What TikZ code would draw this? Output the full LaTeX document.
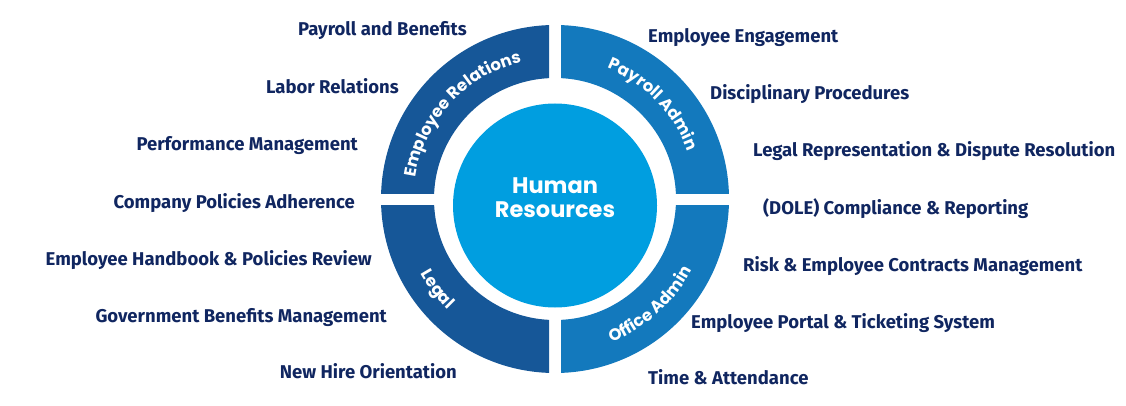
\documentclass[tikz,border=0pt]{standalone}
\usepackage{fontspec}
\setmainfont{Fira Sans}
\newfontfamily\popfont{Poppins}
\usetikzlibrary{decorations.text,calc}
\definecolor{navy}{RGB}{16,38,96}
\definecolor{segdark}{RGB}{22,87,152}
\definecolor{seglight}{RGB}{19,121,189}
\definecolor{hrblue}{RGB}{0,158,224}
\newcommand\curvefont{\popfont\bfseries\fontsize{16.5}{16.5}\selectfont}
\tikzset{
  lbl/.style={text=navy, font=\fontsize{18.5}{18.5}\selectfont\bfseries, inner sep=0pt},
  lleft/.style={lbl, anchor=base east},
  lright/.style={lbl, anchor=base west},
  curvelbl/.style={decorate, decoration={text along path, text align=center, text color=white, text={|\curvefont|#1}}},
}
\begin{document}
\begin{tikzpicture}[x=1pt,y=1pt]
\useasboundingbox (0,0) rectangle (1126,-406);
\coordinate (C) at (555,-199);
% ring segments
\foreach \sx/\sy/\col in {-1/1/segdark, 1/1/seglight, -1/-1/segdark, 1/-1/seglight}{
  \begin{scope}
    \clip ($(C)+(6*\sx,6*\sy)$) rectangle ($(C)+(200*\sx,200*\sy)$);
    \fill[fill=\col, even odd rule] (C) circle[radius=174pt] (C) circle[radius=121pt];
  \end{scope}
}
% centre
\node[circle, fill=hrblue, minimum size=204pt, inner sep=0pt] (hr) at (555,-205.5) {};
\node[text=white, font=\popfont\bfseries\fontsize{22.5}{24}\selectfont, align=center, inner sep=0pt] (hrtext) at (555,-198) {Human\\Resources};
% curved labels
\path[curvelbl={Employee Relations}] ($(C)+(177.5:141pt)$) arc[start angle=177.5, end angle=97.5, radius=141pt];
\path[curvelbl={Payroll Admin}] ($(C)+(84:141pt)$) arc[start angle=84, end angle=4, radius=141pt];
\path[curvelbl={Legal}] ($(C)+(177.5:154pt)$) arc[start angle=177.5, end angle=257.5, radius=154pt];
\path[curvelbl={Office Admin}] ($(C)+(272:154pt)$) arc[start angle=272, end angle=352, radius=154pt];
% left labels
\node[lleft] (l1) at (467,-36) {Payroll and Benefits};
\node[lleft] (l2) at (399,-94) {Labor Relations};
\node[lleft] (l3) at (358,-151) {Performance Management};
\node[lleft] (l4) at (355,-208) {Company Policies Adherence};
\node[lleft] (l5) at (372,-265) {Employee Handbook \& Policies Review};
\node[lleft] (l6) at (387,-322) {Government Benefits Management};
\node[lleft] (l7) at (457,-378) {New Hire Orientation};
% right labels
\node[lright] (r1) at (648,-43) {Employee Engagement};
\node[lright] (r2) at (710,-100) {Disciplinary Procedures};
\node[lright] (r3) at (753,-157) {Legal Representation \& Dispute Resolution};
\node[lright] (r4) at (763,-214) {(DOLE) Compliance \& Reporting};
\node[lright] (r5) at (743,-271) {Risk \& Employee Contracts Management};
\node[lright] (r6) at (691,-328) {Employee Portal \& Ticketing System};
\node[lright] (r7) at (648,-384) {Time \& Attendance};
\end{tikzpicture}
\end{document}
